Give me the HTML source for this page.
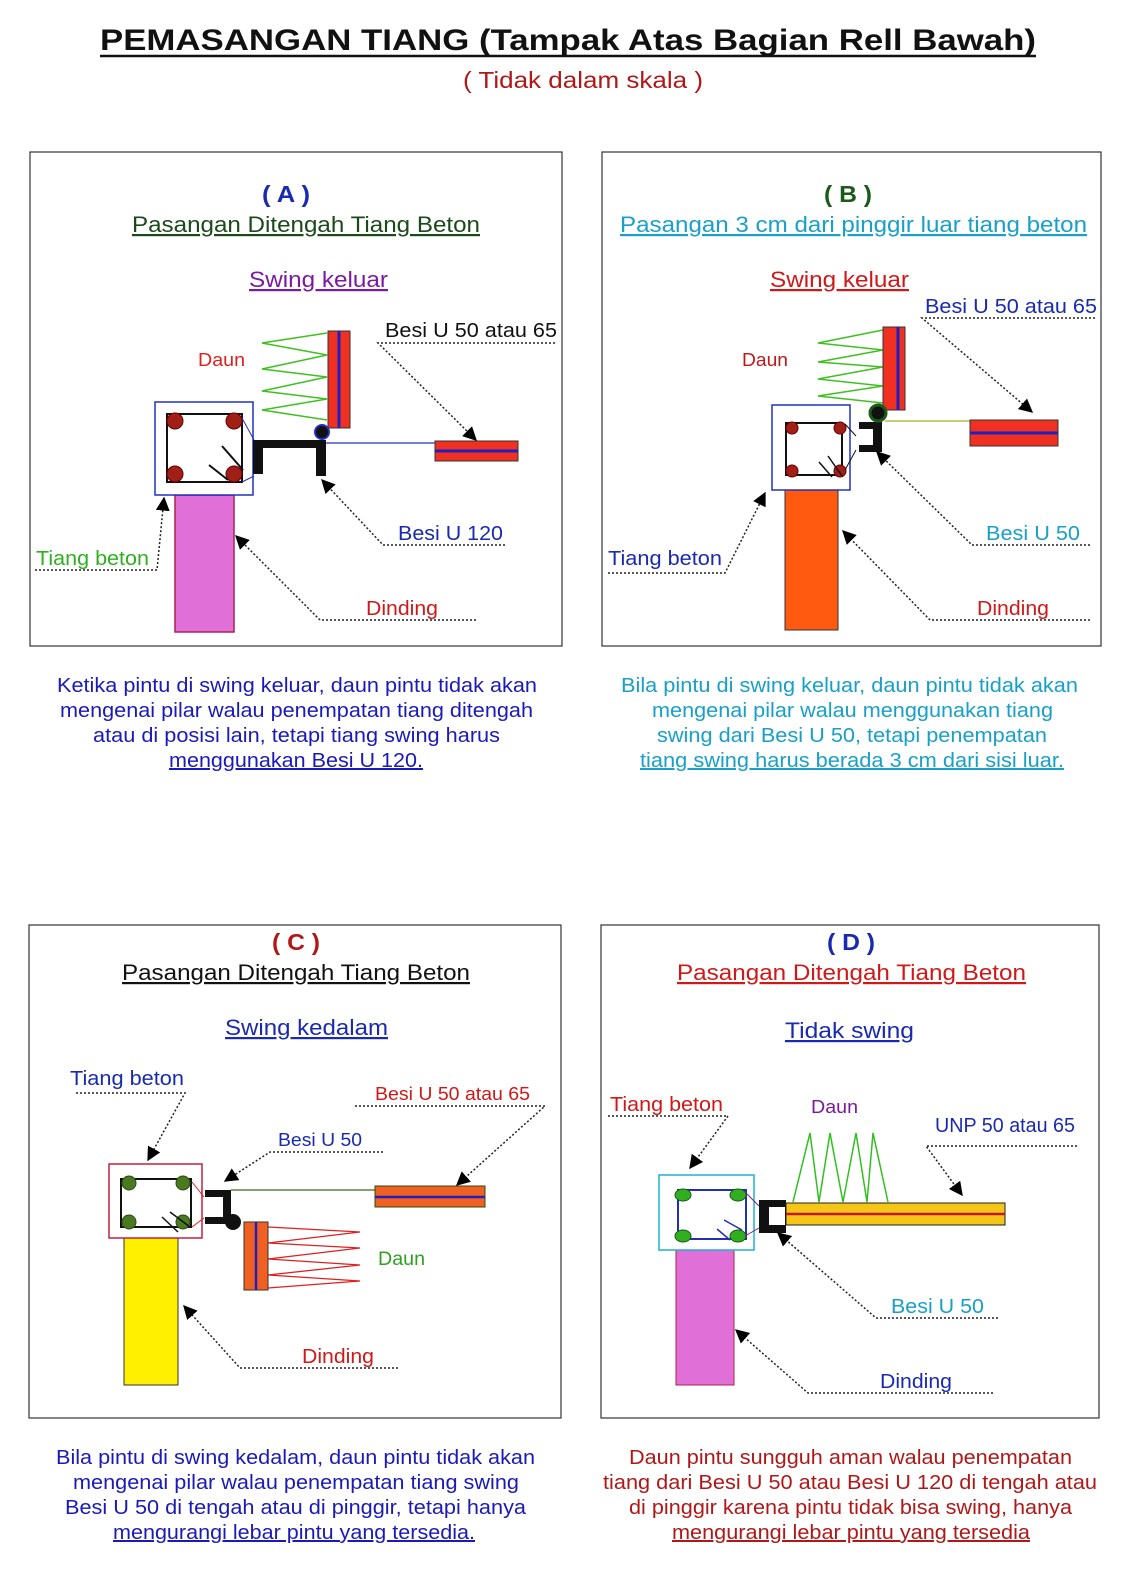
<!DOCTYPE html>
<html><head><meta charset="utf-8"><style>
html,body{margin:0;padding:0;background:#fff}
svg{display:block}
text{font-family:"Liberation Sans",Arial,sans-serif}
</style></head><body>
<svg width="1140" height="1576" viewBox="0 0 1140 1576" xmlns="http://www.w3.org/2000/svg">
<defs>
<marker id="ah" viewBox="0 0 10 10" refX="9" refY="5" markerWidth="14" markerHeight="14" markerUnits="userSpaceOnUse" orient="auto"><path d="M0,0 L10,5 L0,10 z" fill="#000"/></marker>
</defs>
<rect width="1140" height="1576" fill="#fff"/>
<text x="100" y="50" font-size="30" font-weight="bold" fill="#111" textLength="936" lengthAdjust="spacingAndGlyphs">PEMASANGAN TIANG  (Tampak Atas Bagian Rell Bawah)</text>
<line x1="100" y1="56" x2="1036" y2="56" stroke="#111" stroke-width="2.5"/>
<text x="463" y="88" font-size="23" fill="#b01818" textLength="240" lengthAdjust="spacingAndGlyphs">( Tidak dalam skala )</text>

<g fill="none" stroke="#333" stroke-width="1.2">
<rect x="30" y="152" width="532" height="494"/>
<rect x="602" y="152" width="499" height="494"/>
<rect x="29" y="925" width="532" height="493"/>
<rect x="601" y="925" width="498" height="493"/>
</g>

<g lengthAdjust="spacingAndGlyphs">
<!-- Panel A -->
<text x="262" y="202" font-size="23" font-weight="bold" fill="#1a2ab0" textLength="48" lengthAdjust="spacingAndGlyphs">( A )</text>
<text x="132" y="232" font-size="22" fill="#1a4a1a" text-decoration="underline" textLength="348" lengthAdjust="spacingAndGlyphs">Pasangan Ditengah Tiang Beton</text>
<text x="249" y="287" font-size="22" fill="#7a1aa0" text-decoration="underline" textLength="139" lengthAdjust="spacingAndGlyphs">Swing keluar</text>
</g>
<rect x="175" y="495" width="59" height="137" fill="#e070d8" stroke="#b02050" stroke-width="1.5"/>
<rect x="155" y="402" width="98" height="93" fill="#fff" stroke="#2030c0" stroke-width="1.5"/>
<rect x="167" y="414" width="75" height="68" fill="none" stroke="#111" stroke-width="2"/>
<g fill="#a02018" stroke="#600" stroke-width="1"><circle cx="175" cy="421" r="8"/><circle cx="234" cy="421" r="8"/><circle cx="175" cy="474" r="8"/><circle cx="234" cy="474" r="8"/></g>
<line x1="222" y1="446" x2="243" y2="470" stroke="#111" stroke-width="2"/><line x1="209" y1="465" x2="228" y2="480" stroke="#111" stroke-width="2"/>
<line x1="242" y1="418" x2="254" y2="440" stroke="#2030c0"/><line x1="242" y1="482" x2="254" y2="476" stroke="#2030c0"/>
<path d="M253,440 H326 V476 H316 V448 H263 V474 H253 Z" fill="#111"/>
<line x1="326" y1="443" x2="435" y2="443" stroke="#2030c0" stroke-width="1.3"/>
<polyline points="327,333 262,343 327,355 262,369 327,377 262,391 327,399 262,410 327,420" fill="none" stroke="#40c020" stroke-width="1.5"/>
<rect x="328" y="331" width="22" height="97" fill="#f03020" stroke="#333"/>
<line x1="339" y1="331" x2="339" y2="428" stroke="#2020c0" stroke-width="3"/>
<circle cx="322" cy="432" r="7" fill="#111" stroke="#2030c0" stroke-width="2"/>
<rect x="435" y="441" width="83" height="20" fill="#f03020" stroke="#333"/>
<line x1="435" y1="451" x2="518" y2="451" stroke="#2020c0" stroke-width="3"/>
<text x="198" y="366" font-size="18" fill="#e02020" textLength="47" lengthAdjust="spacingAndGlyphs">Daun</text>
<text x="385" y="337" font-size="20" fill="#111" textLength="172" lengthAdjust="spacingAndGlyphs">Besi U 50 atau 65</text>
<text x="398" y="540" font-size="20" fill="#1a2ab0" textLength="105" lengthAdjust="spacingAndGlyphs">Besi U 120</text>
<text x="36" y="565" font-size="20" fill="#30b020" textLength="113" lengthAdjust="spacingAndGlyphs">Tiang beton</text>
<text x="366" y="615" font-size="20" fill="#d01818" textLength="72" lengthAdjust="spacingAndGlyphs">Dinding</text>
<g stroke="#222" stroke-width="1.5" stroke-dasharray="2,2" fill="none">
<path d="M555,343 H378 L476,440" marker-end="url(#ah)"/>
<path d="M505,545 H383 L322,480" marker-end="url(#ah)"/>
<path d="M35,570 H157 L164,498" marker-end="url(#ah)"/>
<path d="M476,620 H320 L236,536" marker-end="url(#ah)"/>
</g>
<g font-size="20" fill="#1a1ab8">
<text x="57" y="692" textLength="480" lengthAdjust="spacingAndGlyphs">Ketika pintu di swing keluar, daun pintu tidak akan</text>
<text x="60" y="717" textLength="473" lengthAdjust="spacingAndGlyphs">mengenai pilar walau penempatan tiang ditengah</text>
<text x="93" y="742" textLength="407" lengthAdjust="spacingAndGlyphs">atau di posisi lain, tetapi tiang swing harus</text>
<text x="169" y="767" text-decoration="underline" textLength="254" lengthAdjust="spacingAndGlyphs">menggunakan Besi U 120.</text>
</g>

<!-- Panel B -->
<text x="824" y="202" font-size="23" font-weight="bold" fill="#1a5a1a" textLength="48" lengthAdjust="spacingAndGlyphs">( B )</text>
<text x="620" y="232" font-size="22" fill="#18a0c8" text-decoration="underline" textLength="467" lengthAdjust="spacingAndGlyphs">Pasangan 3 cm dari pinggir luar tiang beton</text>
<text x="770" y="287" font-size="22" fill="#d01818" text-decoration="underline" textLength="139" lengthAdjust="spacingAndGlyphs">Swing keluar</text>
<rect x="785" y="490" width="53" height="140" fill="#ff5a10" stroke="#333"/>
<rect x="772" y="405" width="78" height="85" fill="#fff" stroke="#2030c0" stroke-width="1.5"/>
<rect x="786" y="423" width="56" height="52" fill="none" stroke="#111" stroke-width="2"/>
<g fill="#a02018" stroke="#600"><circle cx="792" cy="428" r="6"/><circle cx="840" cy="428" r="6"/><circle cx="792" cy="471" r="6"/><circle cx="840" cy="471" r="6"/></g>
<line x1="828" y1="456" x2="842" y2="476" stroke="#111" stroke-width="1.5"/><line x1="819" y1="462" x2="832" y2="477" stroke="#111" stroke-width="1.5"/>
<line x1="845" y1="424" x2="856" y2="436" stroke="#111"/><line x1="845" y1="470" x2="856" y2="450" stroke="#111"/>
<path d="M859,422 H882 V452 H859 V445 H873 V429 H859 Z" fill="#111"/>
<line x1="885" y1="421" x2="970" y2="421" stroke="#a0b020" stroke-width="1.3"/>
<polyline points="883,330 818,343 883,350 818,362 883,367 818,379 883,386 818,396 883,403" fill="none" stroke="#40c020" stroke-width="1.5"/>
<rect x="883" y="327" width="22" height="83" fill="#f03020" stroke="#333"/>
<line x1="898" y1="327" x2="898" y2="410" stroke="#2020c0" stroke-width="3"/>
<circle cx="878" cy="413" r="8" fill="#111" stroke="#1a5a1a" stroke-width="3"/>
<rect x="970" y="420" width="88" height="26" fill="#f03020" stroke="#333"/>
<line x1="970" y1="433" x2="1058" y2="433" stroke="#2020c0" stroke-width="3"/>
<text x="742" y="366" font-size="18" fill="#c01818" textLength="46" lengthAdjust="spacingAndGlyphs">Daun</text>
<text x="925" y="313" font-size="20" fill="#1a2ab0" textLength="172" lengthAdjust="spacingAndGlyphs">Besi U 50 atau 65</text>
<text x="986" y="540" font-size="20" fill="#18a0c8" textLength="94" lengthAdjust="spacingAndGlyphs">Besi U 50</text>
<text x="608" y="565" font-size="20" fill="#1a2ab0" textLength="114" lengthAdjust="spacingAndGlyphs">Tiang beton</text>
<text x="977" y="615" font-size="20" fill="#d01818" textLength="72" lengthAdjust="spacingAndGlyphs">Dinding</text>
<g stroke="#222" stroke-width="1.5" stroke-dasharray="2,2" fill="none">
<path d="M1095,318 H922 L1032,412" marker-end="url(#ah)"/>
<path d="M1090,545 H972 L877,452" marker-end="url(#ah)"/>
<path d="M608,573 H725 L765,493" marker-end="url(#ah)"/>
<path d="M1090,620 H930 L843,531" marker-end="url(#ah)"/>
</g>
<g font-size="20" fill="#18a0c8">
<text x="621" y="692" textLength="457" lengthAdjust="spacingAndGlyphs">Bila pintu di swing keluar, daun pintu tidak akan</text>
<text x="652" y="717" textLength="401" lengthAdjust="spacingAndGlyphs">mengenai pilar walau menggunakan tiang</text>
<text x="657" y="742" textLength="390" lengthAdjust="spacingAndGlyphs">swing dari Besi U 50, tetapi penempatan</text>
<text x="640" y="767" text-decoration="underline" textLength="424" lengthAdjust="spacingAndGlyphs">tiang swing harus berada 3 cm dari sisi luar.</text>
</g>

<!-- Panel C -->
<text x="272" y="950" font-size="23" font-weight="bold" fill="#b01818" textLength="48" lengthAdjust="spacingAndGlyphs">( C )</text>
<text x="122" y="980" font-size="22" fill="#111" text-decoration="underline" textLength="348" lengthAdjust="spacingAndGlyphs">Pasangan Ditengah Tiang Beton</text>
<text x="225" y="1035" font-size="22" fill="#1a2ab0" text-decoration="underline" textLength="163" lengthAdjust="spacingAndGlyphs">Swing kedalam</text>
<rect x="124" y="1238" width="54" height="147" fill="#fff000" stroke="#333"/>
<rect x="109" y="1164" width="93" height="74" fill="#fff" stroke="#c02040" stroke-width="1.5"/>
<rect x="121" y="1179" width="70" height="48" fill="none" stroke="#111" stroke-width="2"/>
<g fill="#4a7a20" stroke="#2a4a10"><circle cx="129" cy="1183" r="7"/><circle cx="183" cy="1183" r="7"/><circle cx="129" cy="1222" r="7"/><circle cx="183" cy="1222" r="7"/></g>
<line x1="170" y1="1212" x2="190" y2="1227" stroke="#111" stroke-width="1.5"/><line x1="162" y1="1217" x2="178" y2="1232" stroke="#111" stroke-width="1.5"/>
<line x1="192" y1="1182" x2="204" y2="1197" stroke="#e02020"/><line x1="192" y1="1227" x2="204" y2="1218" stroke="#e02020"/>
<path d="M205,1190 H231 V1224 H205 V1217 H223 V1197 H205 Z" fill="#111"/>
<circle cx="233" cy="1222" r="8" fill="#111"/>
<line x1="231" y1="1190" x2="375" y2="1190" stroke="#3a6a20" stroke-width="1.3"/>
<polyline points="268,1227 360,1232 268,1243 360,1248 268,1259 360,1265 268,1275 360,1281 268,1288" fill="none" stroke="#e02020" stroke-width="1.3"/>
<rect x="244" y="1222" width="24" height="68" fill="#f06020" stroke="#333"/>
<line x1="256" y1="1222" x2="256" y2="1290" stroke="#2020c0" stroke-width="2.5"/>
<rect x="375" y="1186" width="110" height="21" fill="#f06020" stroke="#2a4a10"/>
<line x1="375" y1="1197" x2="485" y2="1197" stroke="#2020c0" stroke-width="2.5"/>
<text x="70" y="1085" font-size="20" fill="#1a2ab0" textLength="114" lengthAdjust="spacingAndGlyphs">Tiang beton</text>
<text x="278" y="1146" font-size="18" fill="#1a2ab0" textLength="84" lengthAdjust="spacingAndGlyphs">Besi U 50</text>
<text x="375" y="1100" font-size="18" fill="#d01818" textLength="155" lengthAdjust="spacingAndGlyphs">Besi U 50 atau 65</text>
<text x="378" y="1265" font-size="19" fill="#30a020" textLength="47" lengthAdjust="spacingAndGlyphs">Daun</text>
<text x="302" y="1363" font-size="20" fill="#d01818" textLength="72" lengthAdjust="spacingAndGlyphs">Dinding</text>
<g stroke="#222" stroke-width="1.5" stroke-dasharray="2,2" fill="none">
<path d="M76,1093 H185 L148,1160" marker-end="url(#ah)"/>
<path d="M383,1152 H270 L225,1181" marker-end="url(#ah)"/>
<path d="M355,1106 H545 L457,1185" marker-end="url(#ah)"/>
<path d="M398,1368 H240 L184,1306" marker-end="url(#ah)"/>
</g>
<g font-size="20" fill="#1a1ab8">
<text x="56" y="1464" textLength="479" lengthAdjust="spacingAndGlyphs">Bila pintu di swing kedalam, daun pintu tidak akan</text>
<text x="73" y="1489" textLength="446" lengthAdjust="spacingAndGlyphs">mengenai pilar walau penempatan tiang swing</text>
<text x="65" y="1514" textLength="461" lengthAdjust="spacingAndGlyphs">Besi U 50 di tengah atau di pinggir, tetapi hanya</text>
<text x="113" y="1539" text-decoration="underline" textLength="362" lengthAdjust="spacingAndGlyphs">mengurangi lebar pintu yang tersedia.</text>
</g>

<!-- Panel D -->
<text x="827" y="950" font-size="23" font-weight="bold" fill="#1a2ab0" textLength="48" lengthAdjust="spacingAndGlyphs">( D )</text>
<text x="677" y="980" font-size="22" fill="#d01818" text-decoration="underline" textLength="349" lengthAdjust="spacingAndGlyphs">Pasangan Ditengah Tiang Beton</text>
<text x="785" y="1038" font-size="22" fill="#1a2ab0" text-decoration="underline" textLength="129" lengthAdjust="spacingAndGlyphs">Tidak swing</text>
<rect x="676" y="1250" width="58" height="135" fill="#e070d8" stroke="#b02050"/>
<rect x="659" y="1175" width="95" height="75" fill="#fff" stroke="#20b0d0" stroke-width="1.5"/>
<rect x="678" y="1190" width="68" height="49" fill="none" stroke="#2030b0" stroke-width="2"/>
<g fill="#30b020" stroke="#1a5a10"><ellipse cx="683" cy="1195" rx="8" ry="6"/><ellipse cx="738" cy="1195" rx="8" ry="6"/><ellipse cx="683" cy="1236" rx="8" ry="6"/><ellipse cx="738" cy="1236" rx="8" ry="6"/></g>
<line x1="724" y1="1220" x2="742" y2="1230" stroke="#2030b0" stroke-width="1.5"/><line x1="717" y1="1229" x2="730" y2="1240" stroke="#2030b0" stroke-width="1.5"/>
<line x1="745" y1="1192" x2="759" y2="1206" stroke="#7a1a9a"/><line x1="745" y1="1236" x2="759" y2="1228" stroke="#7a1a9a"/>
<rect x="759" y="1200" width="27" height="33" fill="#111"/>
<rect x="769" y="1207" width="16" height="18" fill="#fff"/>
<polyline points="793,1202 810,1133 819,1202 830,1133 843,1202 856,1133 867,1202 873,1133 888,1202" fill="none" stroke="#30c020" stroke-width="1.5"/>
<rect x="786" y="1203" width="219" height="22" fill="#f5c518" stroke="#222"/>
<line x1="786" y1="1214" x2="1005" y2="1214" stroke="#c01818" stroke-width="2.5"/>
<text x="610" y="1111" font-size="20" fill="#d01818" textLength="113" lengthAdjust="spacingAndGlyphs">Tiang beton</text>
<text x="811" y="1113" font-size="18" fill="#7a1aa0" textLength="47" lengthAdjust="spacingAndGlyphs">Daun</text>
<text x="935" y="1132" font-size="20" fill="#1a2ab0" textLength="140" lengthAdjust="spacingAndGlyphs">UNP 50 atau 65</text>
<text x="891" y="1313" font-size="20" fill="#18a0c8" textLength="93" lengthAdjust="spacingAndGlyphs">Besi U 50</text>
<text x="880" y="1388" font-size="20" fill="#1a2ab0" textLength="72" lengthAdjust="spacingAndGlyphs">Dinding</text>
<g stroke="#222" stroke-width="1.5" stroke-dasharray="2,2" fill="none">
<path d="M608,1116 H728 L690,1168" marker-end="url(#ah)"/>
<path d="M1077,1146 H926 L962,1195" marker-end="url(#ah)"/>
<path d="M998,1318 H876 L778,1233" marker-end="url(#ah)"/>
<path d="M993,1393 H808 L736,1330" marker-end="url(#ah)"/>
</g>
<g font-size="20" fill="#b01818">
<text x="629" y="1464" textLength="443" lengthAdjust="spacingAndGlyphs">Daun pintu sungguh aman walau penempatan</text>
<text x="603" y="1489" textLength="494" lengthAdjust="spacingAndGlyphs">tiang dari Besi U 50 atau Besi U 120 di tengah atau</text>
<text x="629" y="1514" textLength="443" lengthAdjust="spacingAndGlyphs">di pinggir karena pintu tidak bisa swing, hanya</text>
<text x="672" y="1539" text-decoration="underline" textLength="358" lengthAdjust="spacingAndGlyphs">mengurangi lebar pintu yang tersedia</text>
</g>
</svg>
</body></html>
